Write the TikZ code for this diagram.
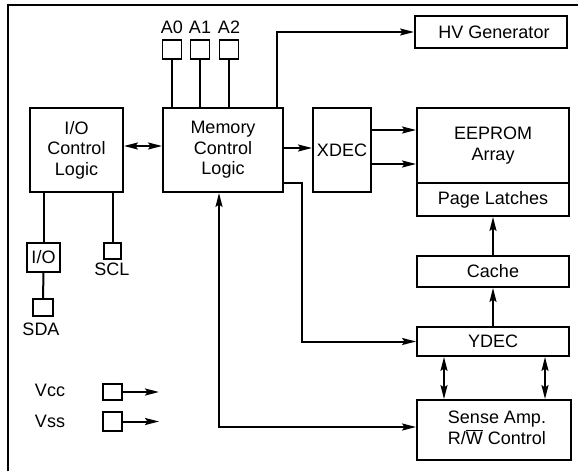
\documentclass[tikz,border=0pt]{standalone}
\usepackage{fontspec}
\setmainfont{Liberation Sans}
\usetikzlibrary{arrows.meta}
\begin{document}
\begin{tikzpicture}[x=1pt,y=-1pt,
  every node/.style={font=\fontsize{18}{20.5}\selectfont},
  blk/.style={draw,line width=1.9pt,inner sep=0pt,align=center},
  pin/.style={draw,line width=1.9pt,inner sep=0pt},
  wire/.style={line width=2pt},
  arr/.style={wire,-{Stealth[length=14pt,width=7pt,inset=2.5pt]}},
  arrtwo/.style={wire,{Stealth[length=14pt,width=7pt,inset=2.5pt]}-{Stealth[length=14pt,width=7pt,inset=2.5pt]}},
  lbl/.style={inner sep=0pt}]
\useasboundingbox (0,0) rectangle (578,471);
\draw[line width=2pt] (8,471) -- (8,5) -- (578,5);

% main blocks
\node[blk,minimum width=93pt,minimum height=84pt] (io) at (76.5,150) {I/O\\Control\\Logic};
\node[blk,minimum width=120pt,minimum height=84pt] (mem) at (223,150) {\raisebox{3pt}{\begin{tabular}{@{}c@{}}Memory\\Control\\Logic\end{tabular}}};
\node[blk,minimum width=58pt,minimum height=84pt] (xdec) at (342,150) {XDEC};
\node[blk,minimum width=152pt,minimum height=75pt] (array) at (493,145.5) {EEPROM\\Array};
\node[blk,minimum width=152pt,minimum height=33pt] (latches) at (493,199.5) {Page Latches};
\node[blk,minimum width=152pt,minimum height=32pt] (hv) at (491,32) {\hspace*{6pt}HV Generator};
\node[blk,minimum width=152pt,minimum height=31pt] (cache) at (493,271.5) {Cache};
\node[blk,minimum width=152pt,minimum height=29pt] (ydec) at (493,341.5) {YDEC};
\node[blk,minimum width=154pt,minimum height=60pt] (sense) at (494,430) {\hspace*{6pt}\begin{tabular}{@{}c@{}}Sense Amp.\\R/$\overline{\hbox{W}}$ Control\end{tabular}};

% address pins
\node[pin,minimum width=19pt,minimum height=19pt] (a0) at (172,49.5) {};
\node[pin,minimum width=19pt,minimum height=19pt] (a1) at (200,49.5) {};
\node[pin,minimum width=19pt,minimum height=19pt] (a2) at (229,49.5) {};
\node[lbl] (la0) at (172,27) {A0};
\node[lbl] (la1) at (200,27) {A1};
\node[lbl] (la2) at (229,27) {A2};

% left side
\node[blk,minimum width=33pt,minimum height=29pt] (iobuf) at (43.5,257.5) {I/O};
\node[pin,minimum width=20pt,minimum height=17pt] (sda) at (43,307.5) {};
\node[lbl] (lsda) at (41,329) {SDA};
\node[pin,minimum width=17pt,minimum height=16pt] (scl) at (112.5,251) {};
\node[lbl] (lscl) at (112,269) {SCL};
\node[pin,minimum width=19pt,minimum height=16pt] (vcc) at (112.5,392) {};
\node[pin,minimum width=19pt,minimum height=19pt] (vss) at (112.5,421.5) {};
\node[lbl] (lvcc) at (50,390) {Vcc};
\node[lbl] (lvss) at (50,421) {Vss};
\coordinate (vccend) at (159,392);
\coordinate (vssend) at (159,421.5);

% connectors
\draw[wire] (a0.south) -- (a0 |- mem.north);
\draw[wire] (a1.south) -- (a1 |- mem.north);
\draw[wire] (a2.south) -- (a2 |- mem.north);
\draw[arr] (277,0 |- mem.north) |- (hv.west);
\draw[arrtwo] (io.east |- 0,146) -- (mem.west |- 0,146);
\draw[arr] (mem.east |- 0,148) -- (xdec.west |- 0,148);
\draw[arr] (xdec.east |- 0,130) -- (array.west |- 0,130);
\draw[arr] (xdec.east |- 0,164) -- (array.west |- 0,164);
\draw[arr] (mem.east |- 0,183) -- (302,183) |- (ydec.west);
\draw[arrtwo] (219,0 |- mem.south) |- (sense.west |- 0,427);
\draw[arr] (ydec.north) -- (cache.south);
\draw[arr] (cache.north) -- (latches.south);
\draw[arrtwo] (444,0 |- ydec.south) -- (444,0 |- sense.north);
\draw[arrtwo] (545,0 |- ydec.south) -- (545,0 |- sense.north);
\draw[wire] (iobuf.north) -- (iobuf.north |- io.south);
\draw[wire] (iobuf.south) -- (sda.north);
\draw[wire] (scl.north) -- (scl.north |- io.south);
\draw[arr] (vcc.east) -- (vccend);
\draw[arr] (vss.east) -- (vssend);
\end{tikzpicture}
\end{document}
